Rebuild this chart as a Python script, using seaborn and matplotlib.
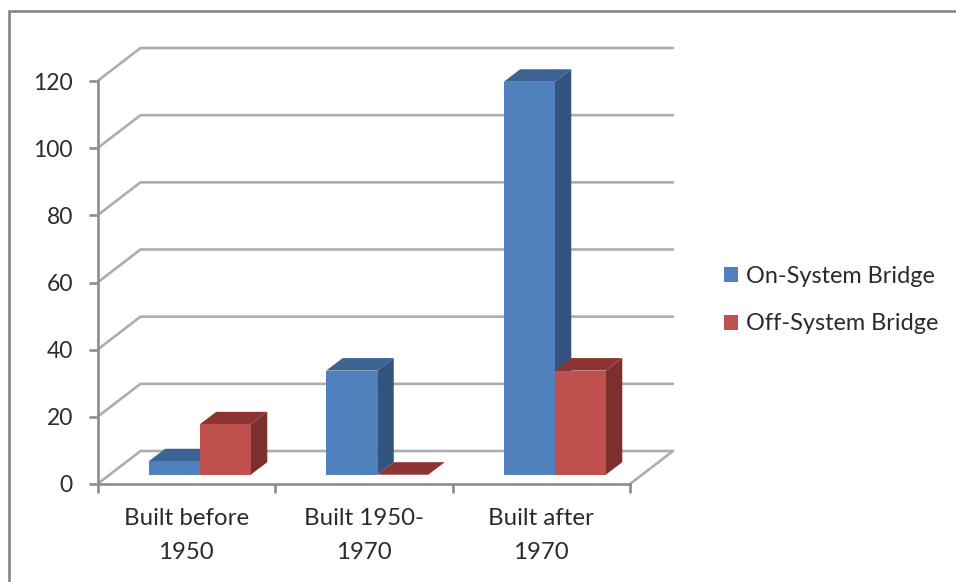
import matplotlib
matplotlib.use("Agg")
import matplotlib.pyplot as plt
from matplotlib.lines import Line2D
from matplotlib.patches import Polygon
from matplotlib.transforms import Affine2D, IdentityTransform
import pandas as pd
import seaborn as sns

# Bridge counts by construction period
periods = ["Built before\n1950", "Built 1950-\n1970", "Built after\n1970"]
on_system = [4, 31, 117]
off_system = [15, 0, 31]
series_names = ["On-System Bridge", "Off-System Bridge"]
y_ticks = [0, 20, 40, 60, 80, 100, 120]

front_colors = ["#4f81bd", "#c0504d"]
top_colors = ["#3b6494", "#8d3432"]
side_colors = ["#32547f", "#7c2f2d"]
grid_color = "#adadad"
axis_color = "#8c8c8c"
text_color = "#2b2b2b"

W, H = 956, 582
WALL_DX, WALL_DY = 43, 33      # depth of the box, in pixels
BAR_DX, BAR_DY = 13.5, 9.3     # bars stand this far inside the box
DEPTH_DX, DEPTH_DY = 16.5, 12.5  # depth of each bar
LINE_W = 1.9

sns.set_theme(style="white")
plt.rcParams["font.family"] = ["Lato", "DejaVu Sans"]

fig = plt.figure(figsize=(W / 100, H / 100), dpi=100, facecolor="white")
ax = fig.add_axes([97.5 / W, 1 - 484 / H, (630 - 97.5) / W, (484 - 81) / H])

table = pd.DataFrame({
    "period": periods * 2,
    "count": on_system + off_system,
    "series": [series_names[0]] * 3 + [series_names[1]] * 3,
})
sns.barplot(data=table, x="period", y="count", hue="series", order=periods,
            hue_order=series_names, palette=front_colors, saturation=1,
            width=0.575, gap=0, linewidth=0, ax=ax, legend=False)

ax.set_xlim(-0.5, 2.5)
ax.set_ylim(0, 120)
ax.set_xlabel("")
ax.set_ylabel("")
ax.set_yticks(y_ticks)
ax.set_xticks([-0.5, 0.5, 1.5, 2.5], minor=True)
ax.patch.set_visible(False)

for name in ("top", "right"):
    ax.spines[name].set_visible(False)
for name in ("left", "bottom"):
    ax.spines[name].set_color(axis_color)
    ax.spines[name].set_linewidth(LINE_W)
ax.tick_params(axis="y", length=6.3, width=LINE_W, color=axis_color, left=True,
               labelcolor=text_color, labelsize=16.5, pad=11.5)
ax.tick_params(axis="x", which="major", length=0, labelcolor=text_color, labelsize=17.3, pad=17.5)
ax.tick_params(axis="x", which="minor", length=6.3, width=LINE_W, color=axis_color, bottom=True)
for label in ax.get_xticklabels():
    label.set_linespacing(1.72)


def to_px(x, y):
    return ax.transData.transform((x, y))


def stroke(points, color, zorder=1):
    xs, ys = zip(*points)
    ax.add_line(Line2D(xs, ys, color=color, lw=LINE_W, transform=IdentityTransform(),
                       clip_on=False, zorder=zorder, solid_capstyle="round",
                       solid_joinstyle="miter"))


# Back wall gridlines and the floor outline
for tick in y_ticks:
    x0, y0 = to_px(-0.5, tick)
    x1, _ = to_px(2.5, tick)
    stroke([(x0, y0), (x0 + WALL_DX, y0 + WALL_DY), (x1 + WALL_DX, y0 + WALL_DY)], grid_color)
x1, y0 = to_px(2.5, 0)
stroke([(x1, y0), (x1 + WALL_DX, y0 + WALL_DY)], grid_color)

# Extrude each bar: pushed back onto the floor, with top and side faces
shift = ax.transData + Affine2D().translate(BAR_DX, BAR_DY)
for s, container in enumerate(ax.containers):
    base_z = 3 + s
    for bar in container:
        bar.set_transform(shift)
        bar.set_clip_on(False)
        bar.set_zorder(base_z + 0.5)
        left, right = bar.get_x(), bar.get_x() + bar.get_width()
        top = bar.get_height()
        lx, ty = shift.transform((left, top))
        rx, by = shift.transform((right, 0))
        top_face = [(lx, ty), (rx, ty), (rx + DEPTH_DX, ty + DEPTH_DY), (lx + DEPTH_DX, ty + DEPTH_DY)]
        side_face = [(rx, by), (rx + DEPTH_DX, by + DEPTH_DY), (rx + DEPTH_DX, ty + DEPTH_DY), (rx, ty)]
        for face, color in ((side_face, side_colors[s]), (top_face, top_colors[s])):
            ax.add_patch(Polygon(face, closed=True, facecolor=color, edgecolor="none",
                                 transform=IdentityTransform(), clip_on=False, zorder=base_z))

# Legend
handles = [plt.Rectangle((0, 0), 1, 1, facecolor=c, edgecolor="none") for c in front_colors]
fig.legend(handles, series_names, loc="center left",
           bbox_to_anchor=(703 / W, 1 - 300 / H), frameon=False, fontsize=16.9,
           labelcolor=text_color, handlelength=0.61, handleheight=0.61,
           handletextpad=0.33, labelspacing=1.15)

# Chart frame along the top and left of the canvas
fig.add_artist(Line2D([956 / W, 9 / W, 9 / W], [1 - 11 / H, 1 - 11 / H, 0], color="#858585",
                      lw=LINE_W, transform=fig.transFigure, solid_joinstyle="miter"))

fig.savefig("out.png", dpi=100)
